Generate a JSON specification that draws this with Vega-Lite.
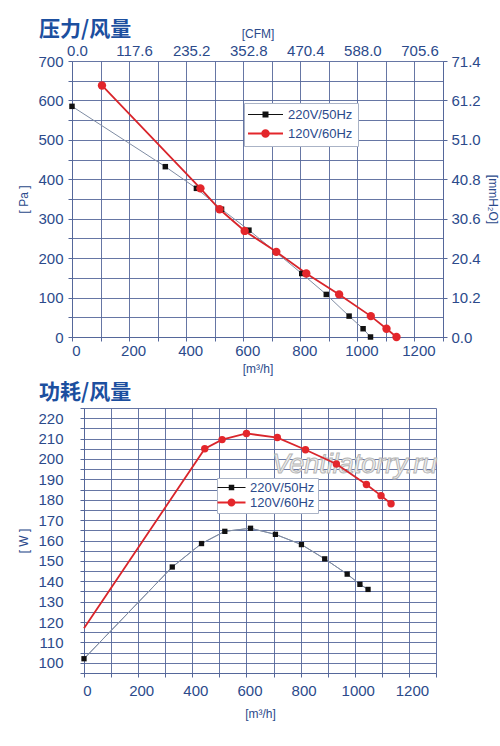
{
  "$schema": "https://vega.github.io/schema/vega-lite/v6.json",
  "background": "white",
  "padding": {"left": 17, "top": 19, "right": 2, "bottom": 2},
  "spacing": 8,
  "datasets": {
    "pressure": [
      {"series": "220V/50Hz", "flow": 0, "value": 585},
      {"series": "220V/50Hz", "flow": 327, "value": 432},
      {"series": "220V/50Hz", "flow": 436, "value": 377},
      {"series": "220V/50Hz", "flow": 524, "value": 324},
      {"series": "220V/50Hz", "flow": 620, "value": 271},
      {"series": "220V/50Hz", "flow": 713, "value": 216},
      {"series": "220V/50Hz", "flow": 805, "value": 161},
      {"series": "220V/50Hz", "flow": 891, "value": 108},
      {"series": "220V/50Hz", "flow": 971, "value": 53},
      {"series": "220V/50Hz", "flow": 1020, "value": 21},
      {"series": "220V/50Hz", "flow": 1046, "value": 0},
      {"series": "120V/60Hz", "flow": 105, "value": 638},
      {"series": "120V/60Hz", "flow": 450, "value": 377},
      {"series": "120V/60Hz", "flow": 517, "value": 324},
      {"series": "120V/60Hz", "flow": 605, "value": 269},
      {"series": "120V/60Hz", "flow": 716, "value": 216},
      {"series": "120V/60Hz", "flow": 821, "value": 161},
      {"series": "120V/60Hz", "flow": 936, "value": 108},
      {"series": "120V/60Hz", "flow": 1047, "value": 53},
      {"series": "120V/60Hz", "flow": 1102, "value": 21},
      {"series": "120V/60Hz", "flow": 1137, "value": 0}
    ],
    "power": [
      {"series": "220V/50Hz", "flow": 0, "value": 102},
      {"series": "220V/50Hz", "flow": 326, "value": 147},
      {"series": "220V/50Hz", "flow": 434, "value": 158.5},
      {"series": "220V/50Hz", "flow": 520, "value": 164.5},
      {"series": "220V/50Hz", "flow": 615, "value": 166},
      {"series": "220V/50Hz", "flow": 707, "value": 163},
      {"series": "220V/50Hz", "flow": 803, "value": 158},
      {"series": "220V/50Hz", "flow": 889, "value": 151},
      {"series": "220V/50Hz", "flow": 972, "value": 143.5},
      {"series": "220V/50Hz", "flow": 1019, "value": 138.5},
      {"series": "220V/50Hz", "flow": 1049, "value": 136},
      {"series": "120V/60Hz", "flow": 0, "value": 117},
      {"series": "120V/60Hz", "flow": 446, "value": 205},
      {"series": "120V/60Hz", "flow": 510, "value": 209.5},
      {"series": "120V/60Hz", "flow": 600, "value": 212.5},
      {"series": "120V/60Hz", "flow": 714, "value": 210.5},
      {"series": "120V/60Hz", "flow": 818, "value": 204.5},
      {"series": "120V/60Hz", "flow": 932, "value": 197.5},
      {"series": "120V/60Hz", "flow": 1043, "value": 187.5},
      {"series": "120V/60Hz", "flow": 1097, "value": 182},
      {"series": "120V/60Hz", "flow": 1134, "value": 178}
    ],
    "watermark": [
      {"flow": 1000, "value": 197, "text": "Ventilatorry.ru"}
    ]
  },
  "vconcat": [
    {
      "width": 371,
      "height": 276,
      "title": {"text": "压力/风量", "anchor": "start", "frame": "group", "dx": -33, "offset": -13},
      "data": {"name": "pressure"},
      "layer": [
        {
          "transform": [{"filter": "datum.series === '220V/50Hz'"}],
          "mark": {"type": "line", "clip": true, "color": "#7f8ca3", "strokeWidth": 1},
          "encoding": {
            "x": {
              "field": "flow", "type": "quantitative",
              "scale": {"domain": [0, 1300], "nice": false},
              "axis": {
                "orient": "bottom", "title": "[m³/h]", "grid": true,
                "values": [0, 100, 200, 300, 400, 500, 600, 700, 800, 900, 1000, 1100, 1200, 1300],
                "labelExpr": "datum.value % 200 === 0 && datum.value <= 1200 ? format(datum.value, 'd') : ''",
                "labelOffset": 4, "labelPadding": 2, "titlePadding": 5
              }
            },
            "y": {
              "field": "value", "type": "quantitative",
              "scale": {"domain": [0, 700], "nice": false},
              "axis": {
                "orient": "left", "title": "[ Pa ]", "grid": true,
                "values": [0, 50, 100, 150, 200, 250, 300, 350, 400, 450, 500, 550, 600, 650, 700],
                "labelExpr": "datum.value % 100 === 0 ? datum.label : ''",
                "labelPadding": 5, "titlePadding": 7
              }
            }
          }
        },
        {
          "transform": [{"filter": "datum.series === '120V/60Hz'"}],
          "mark": {"type": "line", "clip": true, "color": "#d9252b", "strokeWidth": 1.8},
          "encoding": {
            "x": {
              "field": "flow", "type": "quantitative",
              "scale": {"domain": [0, 1300], "nice": false},
              "axis": {
                "orient": "top", "title": "[CFM]", "grid": false,
                "values": [0, 200, 400, 600, 800, 1000, 1200],
                "labelExpr": "format(datum.value * 0.588, '.1f')",
                "labelOffset": 5, "labelPadding": 3, "titlePadding": 3, "domain": false, "ticks": false
              }
            },
            "y": {
              "field": "value", "type": "quantitative",
              "scale": {"domain": [0, 700], "nice": false},
              "axis": {
                "orient": "right", "title": "[mmH₂O]", "grid": false,
                "values": [0, 100, 200, 300, 400, 500, 600, 700],
                "labelExpr": "format(datum.value * 0.102, '.1f')",
                "labelPadding": 4, "titlePadding": 5
              }
            }
          }
        },
        {
          "transform": [{"filter": "datum.series === '220V/50Hz'"}],
          "mark": {"type": "point", "shape": "square", "filled": true, "color": "#111111", "size": 30, "opacity": 1},
          "encoding": {
            "x": {"field": "flow", "type": "quantitative", "scale": {"domain": [0, 1300], "nice": false}, "axis": null},
            "y": {"field": "value", "type": "quantitative", "scale": {"domain": [0, 700], "nice": false}, "axis": null}
          }
        },
        {
          "transform": [{"filter": "datum.series === '120V/60Hz'"}],
          "mark": {"type": "point", "shape": "circle", "filled": true, "color": "#e3262b", "size": 70, "opacity": 1},
          "encoding": {
            "x": {"field": "flow", "type": "quantitative", "scale": {"domain": [0, 1300], "nice": false}, "axis": null},
            "y": {"field": "value", "type": "quantitative", "scale": {"domain": [0, 700], "nice": false}, "axis": null}
          }
        },
        {
          "transform": [{"filter": "false"}],
          "mark": {"type": "point", "filled": true},
          "encoding": {
            "x": {"field": "flow", "type": "quantitative", "scale": {"domain": [0, 1300], "nice": false}, "axis": null},
            "y": {"field": "value", "type": "quantitative", "scale": {"domain": [0, 700], "nice": false}, "axis": null},
            "color": {
              "field": "series", "type": "nominal",
              "scale": {"domain": ["220V/50Hz", "120V/60Hz"], "range": ["#111111", "#e3262b"]},
              "legend": {"orient": "none", "title": null, "legendX": 172, "legendY": 42, "symbolOffset": 10, "padding": 5, "rowPadding": 5}
            },
            "shape": {
              "field": "series", "type": "nominal",
              "scale": {
                "domain": ["220V/50Hz", "120V/60Hz"],
                "range": [
                  "M-3.5,-0.1H3.5V0.1H-3.5Z M-0.6,-0.6H0.6V0.6H-0.6Z",
                  "M-3.5,-0.18H3.5V0.18H-3.5Z M-0.85,0A0.85,0.85 0 1,1 0.85,0A0.85,0.85 0 1,1 -0.85,0Z"
                ]
              },
              "legend": {"orient": "none", "title": null, "legendX": 172, "legendY": 42, "symbolOffset": 10, "padding": 5, "rowPadding": 5}
            }
          }
        }
      ],
      "resolve": {"axis": {"x": "independent", "y": "independent"}}
    },
    {
      "width": 364,
      "height": 265,
      "title": {"text": "功耗/风量", "anchor": "start", "frame": "group", "dx": -33, "offset": -2},
      "data": {"name": "power"},
      "layer": [
        {
          "transform": [{"filter": "datum.series === '220V/50Hz'"}],
          "mark": {"type": "line", "clip": true, "color": "#7f8ca3", "strokeWidth": 1},
          "encoding": {
            "x": {
              "field": "flow", "type": "quantitative",
              "scale": {"domain": [0, 1300], "nice": false, "range": [12, 364]},
              "axis": {
                "orient": "bottom", "title": "[m³/h]", "grid": true,
                "values": [0, 100, 200, 300, 400, 500, 600, 700, 800, 900, 1000, 1100, 1200, 1300],
                "labelExpr": "datum.value % 200 === 0 && datum.value <= 1200 ? format(datum.value, 'd') : ''",
                "labelOffset": 3, "labelPadding": 6, "titlePadding": 10
              }
            },
            "y": {
              "field": "value", "type": "quantitative",
              "scale": {"domain": [95, 225], "nice": false, "zero": false},
              "axis": {
                "orient": "left", "title": "[ W ]", "grid": true, "offset": -12,
                "values": [95, 100, 105, 110, 115, 120, 125, 130, 135, 140, 145, 150, 155, 160, 165, 170, 175, 180, 185, 190, 195, 200, 205, 210, 215, 220, 225],
                "labelExpr": "datum.value % 10 === 0 && datum.value <= 220 ? datum.label : ''",
                "labelPadding": 17, "titlePadding": 7
              }
            }
          }
        },
        {
          "data": {"name": "watermark"},
          "mark": {"type": "text", "font": "Liberation Sans", "fontSize": 27, "fontStyle": "italic", "fill": "#f2f2f2", "stroke": "#b5b5b5", "strokeWidth": 1},
          "encoding": {
            "x": {"field": "flow", "type": "quantitative", "scale": {"domain": [0, 1300], "nice": false, "range": [12, 364]}, "axis": null},
            "y": {"field": "value", "type": "quantitative", "scale": {"domain": [95, 225], "nice": false, "zero": false}, "axis": null},
            "text": {"field": "text"}
          }
        },
        {
          "transform": [{"filter": "datum.series === '220V/50Hz'"}],
          "mark": {"type": "line", "clip": true, "color": "#7f8ca3", "strokeWidth": 1},
          "encoding": {
            "x": {"field": "flow", "type": "quantitative", "scale": {"domain": [0, 1300], "nice": false, "range": [12, 364]}, "axis": null},
            "y": {"field": "value", "type": "quantitative", "scale": {"domain": [95, 225], "nice": false, "zero": false}, "axis": null}
          }
        },
        {
          "transform": [{"filter": "datum.series === '120V/60Hz'"}],
          "mark": {"type": "line", "clip": true, "color": "#d9252b", "strokeWidth": 1.8},
          "encoding": {
            "x": {"field": "flow", "type": "quantitative", "scale": {"domain": [0, 1300], "nice": false, "range": [12, 364]}, "axis": null},
            "y": {"field": "value", "type": "quantitative", "scale": {"domain": [95, 225], "nice": false, "zero": false}, "axis": null}
          }
        },
        {
          "transform": [{"filter": "datum.series === '220V/50Hz'"}],
          "mark": {"type": "point", "shape": "square", "filled": true, "color": "#111111", "size": 28, "opacity": 1},
          "encoding": {
            "x": {"field": "flow", "type": "quantitative", "scale": {"domain": [0, 1300], "nice": false, "range": [12, 364]}, "axis": null},
            "y": {"field": "value", "type": "quantitative", "scale": {"domain": [95, 225], "nice": false, "zero": false}, "axis": null}
          }
        },
        {
          "transform": [{"filter": "datum.series === '120V/60Hz' && datum.flow > 0"}],
          "mark": {"type": "point", "shape": "circle", "filled": true, "color": "#e3262b", "size": 55, "opacity": 1},
          "encoding": {
            "x": {"field": "flow", "type": "quantitative", "scale": {"domain": [0, 1300], "nice": false, "range": [12, 364]}, "axis": null},
            "y": {"field": "value", "type": "quantitative", "scale": {"domain": [95, 225], "nice": false, "zero": false}, "axis": null}
          }
        },
        {
          "transform": [{"filter": "false"}],
          "mark": {"type": "point", "filled": true},
          "encoding": {
            "x": {"field": "flow", "type": "quantitative", "scale": {"domain": [0, 1300], "nice": false, "range": [12, 364]}, "axis": null},
            "y": {"field": "value", "type": "quantitative", "scale": {"domain": [95, 225], "nice": false, "zero": false}, "axis": null},
            "color": {
              "field": "series", "type": "nominal",
              "scale": {"domain": ["220V/50Hz", "120V/60Hz"], "range": ["#111111", "#e3262b"]},
              "legend": {"orient": "none", "title": null, "legendX": 145, "legendY": 70, "rowPadding": 1, "padding": 3, "symbolOffset": 5, "labelOffset": 12}
            },
            "shape": {
              "field": "series", "type": "nominal",
              "scale": {
                "domain": ["220V/50Hz", "120V/60Hz"],
                "range": [
                  "M-2.8,-0.1H2.8V0.1H-2.8Z M-0.55,-0.55H0.55V0.55H-0.55Z",
                  "M-2.8,-0.18H2.8V0.18H-2.8Z M-0.8,0A0.8,0.8 0 1,1 0.8,0A0.8,0.8 0 1,1 -0.8,0Z"
                ]
              },
              "legend": {"orient": "none", "title": null, "legendX": 145, "legendY": 70, "rowPadding": 1, "padding": 3, "symbolOffset": 5, "labelOffset": 12}
            }
          }
        }
      ],
      "resolve": {"axis": {"x": "independent", "y": "independent"}}
    }
  ],
  "resolve": {
    "scale": {"x": "independent", "y": "independent", "color": "independent", "shape": "independent"}
  },
  "config": {
    "view": {"stroke": null},
    "title": {"font": "Noto Sans CJK SC", "fontSize": 21, "fontWeight": "bold", "color": "#1c4f9f"},
    "axis": {
      "labelFont": "Liberation Sans", "labelFontSize": 15, "labelColor": "#2b4a8b",
      "titleFont": "Liberation Sans", "titleFontSize": 12, "titleFontWeight": "normal", "titleColor": "#2b4a8b",
      "gridColor": "#55679a", "gridOpacity": 0.9, "gridWidth": 1,
      "domainColor": "#55679a", "domainWidth": 1,
      "tickColor": "#55679a", "tickSize": 4,
      "labelFlush": false, "labelOverlap": false
    },
    "legend": {
      "direction": "vertical",
      "symbolSize": 100, "symbolStrokeWidth": 0, "symbolOpacity": 1, "symbolOffset": 13,
      "labelFont": "Liberation Sans", "labelFontSize": 13, "labelColor": "#2b4a8b", "labelOffset": 16,
      "fillColor": "white", "strokeColor": "#aab3c6", "padding": 4, "rowPadding": 3
    }
  }
}
